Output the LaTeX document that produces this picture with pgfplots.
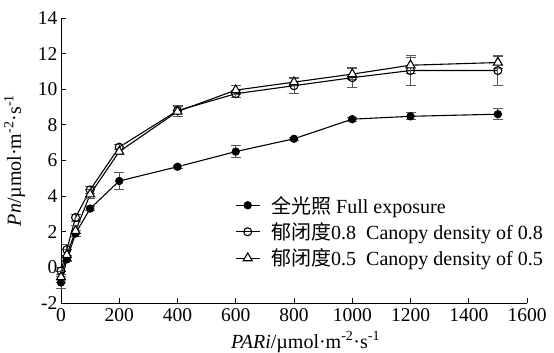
\documentclass[border=0pt]{standalone}
\usepackage{fontspec}
\setmainfont{Liberation Serif}
\newfontfamily\cjk{Noto Sans CJK SC}
\usepackage{pgfplots}
\pgfplotsset{compat=1.18}
\usepackage{pgfplotstable}
\pgfplotstableread{
x y e
0 -0.85 0.35
20 0.45 0.12
50 1.90 0.15
100 3.30 0.10
200 4.85 0.50
400 5.65 0.08
600 6.50 0.35
800 7.22 0.08
1000 8.32 0.12
1200 8.48 0.20
1500 8.60 0.30
}\full
\pgfplotstableread{
x y e
0 -0.20 0.20
20 1.00 0.30
50 2.80 0.20
100 4.35 0.20
200 6.75 0.15
400 8.80 0.30
600 9.75 0.20
800 10.20 0.45
1000 10.65 0.55
1200 11.05 0.85
1500 11.05 0.85
}\dense
\pgfplotstableread{
x y e
0 -0.55 0.30
20 0.70 0.30
50 2.05 0.30
100 4.10 0.25
200 6.50 0.15
400 8.75 0.30
600 9.95 0.25
800 10.40 0.20
1000 10.85 0.30
1200 11.35 0.45
1500 11.50 0.35
}\half
\begin{document}
\begin{tikzpicture}
\begin{axis}[
  scale only axis, width=466pt, height=285pt,
  xmin=0, xmax=1600, ymin=-2, ymax=14,
  axis lines=left, axis line style={-, line width=0.9pt},
  tick align=inside, major tick length=5pt,
  tick style={line width=0.9pt, black},
  xtick={0,200,...,1600}, ytick={-2,0,...,14},
  /pgf/number format/assume math mode=true,
  /pgf/number format/1000 sep={},
  ticklabel style={font=\fontsize{19.5}{21}\selectfont},
  xticklabel style={yshift=-2pt},
  label style={font=\fontsize{20}{22}\selectfont},
  xlabel={\textit{PARi}/µmol·m\textsuperscript{-2}·s\textsuperscript{-1}},
  ylabel={\textit{Pn}/µmol·m\textsuperscript{-2}·s\textsuperscript{-1}},
  xlabel style={at={(axis description cs:0.525,0)}, anchor=base, yshift=-45pt},
  ylabel style={at={(axis description cs:0,0.5)}, anchor=base, yshift=40pt},
  clip=false,
  legend style={at={(0.367,0.39)}, anchor=north west, draw=none, fill=none,
    font=\fontsize{20}{22}\selectfont, row sep=4pt, column sep=9pt},
  legend cell align=left,
  legend image code/.code={\draw[#1, mark repeat=2, mark phase=2] plot coordinates {(0cm,0cm) (0.42cm,0cm) (0.84cm,0cm)};},
  every axis plot/.append style={line width=1.1pt, black},
  error bars/error bar style={line width=0.8pt, black!65},
  error bars/error mark options={rotate=90, mark size=5pt, line width=0.8pt, black!65},
]
\addplot[mark=*, mark size=3.6pt, mark options={fill=black, solid}, error bars/.cd, y dir=both, y explicit]
  table[x=x, y=y, y error=e]{\full};
\addlegendentry{{\cjk 全光照} Full exposure}
\addplot[mark=o, mark size=4pt, mark options={fill=white, solid}, error bars/.cd, y dir=both, y explicit]
  table[x=x, y=y, y error=e]{\dense};
\addlegendentry{{\cjk 郁闭度}0.8\enspace Canopy density of 0.8}
\addplot[mark=triangle*, mark size=5.2pt, mark options={fill=white, solid}, error bars/.cd, y dir=both, y explicit]
  table[x=x, y=y, y error=e]{\half};
\addlegendentry{{\cjk 郁闭度}0.5\enspace Canopy density of 0.5}
\end{axis}
\pgfresetboundingbox
\path[use as bounding box] (current axis.south west) ++(-61pt,-50pt) rectangle ++(554pt,353pt);
\end{tikzpicture}
\end{document}
